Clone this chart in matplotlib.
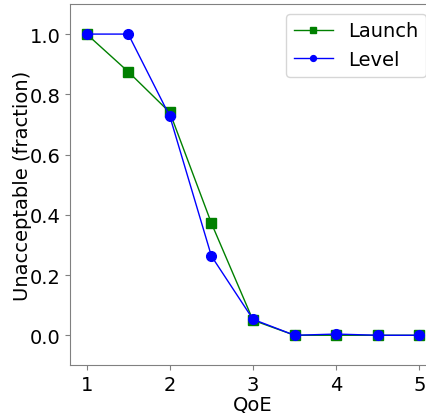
import numpy as np
import matplotlib.pyplot as plt

# QoE levels and fraction of unacceptable ratings
qoe = [1.0, 1.5, 2.0, 2.5, 3.0, 3.5, 4.0, 4.5, 5.0]
launch = [1.0, 0.875, 0.74, 0.372, 0.05, 0.0, 0.0, 0.0, 0.0]
level = [1.0, 1.0, 0.727, 0.263, 0.053, 0.0, 0.004, 0.0, 0.0]

plt.rcParams['font.size'] = 14

fig = plt.figure(figsize=(4.27, 4.14), dpi=100)
ax = fig.add_axes([0.164, 0.115, 0.857, 0.873])

ax.plot(qoe, launch, color='green', marker='s', markersize=7, linewidth=1, label='Launch')
ax.plot(qoe, level, color='blue', marker='o', markersize=7, linewidth=1, label='Level')

ax.set_xlim(0.8, 5.2)
ax.set_ylim(-0.1, 1.1)
ax.set_xticks([1, 2, 3, 4, 5])
ax.set_yticks([0.0, 0.2, 0.4, 0.6, 0.8, 1.0])
ax.set_xlabel('QoE', labelpad=0)
ax.set_ylabel('Unacceptable (fraction)', labelpad=-2)

for s in ax.spines.values():
    s.set_color('gray')
ax.tick_params(color='gray')

ax.legend(loc='upper right', markerscale=0.6)

fig.savefig('out.png', dpi=100)
